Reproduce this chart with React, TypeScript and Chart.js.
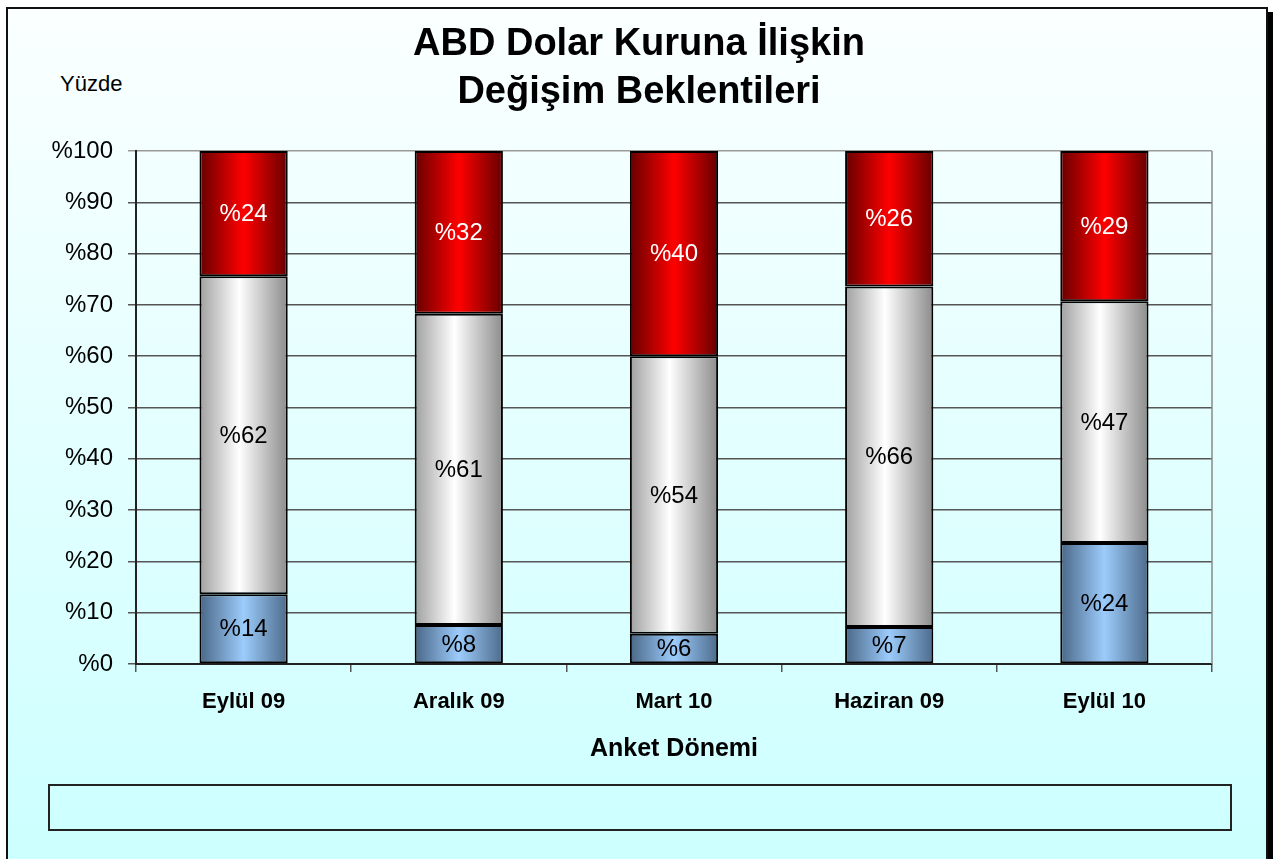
import React, { useEffect, useRef } from "react";
import { Chart, registerables } from "chart.js";

Chart.register(...registerables);

const categories = ["Eylül 09", "Aralık 09", "Mart 10", "Haziran 09", "Eylül 10"];
const lowSeries = [13.6, 7.6, 5.9, 7.2, 23.6];
const midSeries = [62.0, 60.7, 54.1, 66.4, 47.1];
const highSeries = [24.4, 31.7, 40.0, 26.4, 29.3];
const yTickValues = [0, 10, 20, 30, 40, 50, 60, 70, 80, 90, 100];
const titleLines = ["ABD Dolar Kuruna İlişkin", "Değişim Beklentileri"];
const yUnitLabel = "Yüzde";
const xAxisTitle = "Anket Dönemi";

const FONT = "'Liberation Sans', Arial, Helvetica, sans-serif";
const W = 1273;
const H = 859;
const BAR_PCT = 0.41;

function makeGrad(stops: [number, string][]) {
  const fallback = stops[Math.floor(stops.length / 2)][1];
  return (ctx: any) => {
    const chart = ctx.chart;
    const xs = chart.scales && chart.scales.x;
    if (!xs || ctx.dataIndex === undefined) return fallback;
    const cx = xs.getPixelForValue(ctx.dataIndex);
    const w = (xs.width / categories.length) * BAR_PCT;
    if (!isFinite(cx) || !isFinite(w) || w <= 0) return fallback;
    const g = chart.ctx.createLinearGradient(cx - w / 2, 0, cx + w / 2, 0);
    stops.forEach(([o, c]) => g.addColorStop(o, c));
    return g;
  };
}

const blueGrad = makeGrad([
  [0, "#4a6787"],
  [0.5, "#9cccfc"],
  [1, "#4d6b8b"],
]);
const greyGrad = makeGrad([
  [0, "#a0a0a0"],
  [0.45, "#ffffff"],
  [1, "#8c8c8c"],
]);
const redGrad = makeGrad([
  [0, "#660000"],
  [0.5, "#ff0000"],
  [1, "#660000"],
]);

const labelPlugin = {
  id: "segLabels",
  afterDatasetsDraw(chart: any) {
    const ctx = chart.ctx;
    ctx.save();
    ctx.font = `24px ${FONT}`;
    ctx.textAlign = "center";
    ctx.textBaseline = "middle";
    chart.data.datasets.forEach((ds: any, di: number) => {
      const meta = chart.getDatasetMeta(di);
      meta.data.forEach((el: any, i: number) => {
        const p = el.getProps(["x", "y", "base"], true);
        const v = ds.data[i];
        ctx.fillStyle = di === 2 ? "#ffffff" : "#000000";
        ctx.fillText("%" + Math.round(v), p.x, (p.y + p.base) / 2 + 1);
      });
    });
    ctx.restore();
  },
};

const borderPlugin = {
  id: "rightBorder",
  beforeDatasetsDraw(chart: any) {
    const { ctx, chartArea } = chart;
    ctx.save();
    ctx.strokeStyle = "#8a8a8a";
    ctx.lineWidth = 1.5;
    ctx.beginPath();
    ctx.moveTo(chartArea.right, chartArea.top);
    ctx.lineTo(chartArea.right, chartArea.bottom);
    ctx.stroke();
    ctx.restore();
  },
};

export default function App() {
  const ref = useRef<HTMLCanvasElement | null>(null);

  useEffect(() => {
    if (!ref.current) return;
    const chart = new Chart(ref.current, {
      type: "bar",
      data: {
        labels: categories,
        datasets: [
          {
            label: "1",
            data: lowSeries,
            backgroundColor: blueGrad as any,
            borderColor: "#000",
            borderWidth: 2,
            borderSkipped: false,
          },
          {
            label: "2",
            data: midSeries,
            backgroundColor: greyGrad as any,
            borderColor: "#000",
            borderWidth: 2,
            borderSkipped: false,
          },
          {
            label: "3",
            data: highSeries,
            backgroundColor: redGrad as any,
            borderColor: "#000",
            borderWidth: 2,
            borderSkipped: false,
          },
        ],
      },
      options: {
        responsive: false,
        animation: false,
        devicePixelRatio: 1,
        datasets: { bar: { barPercentage: BAR_PCT, categoryPercentage: 1 } },
        layout: { padding: { left: 5, right: 0, top: 0, bottom: 0 } },
        plugins: {
          legend: { display: false },
          tooltip: { enabled: false },
          title: {
            display: true,
            text: titleLines,
            color: "#000",
            font: { family: FONT, size: 38, weight: "bold", lineHeight: 1.27 },
            padding: { top: 20, bottom: 34.5 },
          },
        },
        scales: {
          x: {
            stacked: true,
            offset: true,
            afterFit: (s: any) => {
              s.height = H - 664;
            },
            grid: {
              offset: true,
              drawOnChartArea: false,
              drawTicks: true,
              tickLength: 8,
              color: "#555",
              lineWidth: 1.5,
            },
            border: { display: true, color: "#222", width: 2 },
            ticks: {
              color: "#000",
              padding: 17,
              font: { family: FONT, size: 22, weight: "bold" },
            },
            title: {
              display: true,
              text: xAxisTitle,
              color: "#000",
              font: { family: FONT, size: 25, weight: "bold", lineHeight: 1.2 },
              padding: { top: 0, bottom: 95 },
            },
          },
          y: {
            stacked: true,
            min: 0,
            max: 100,
            afterFit: (s: any) => {
              s.width = 131;
            },
            afterBuildTicks: (s: any) => {
              s.ticks = yTickValues.map((v) => ({ value: v }));
            },
            grid: {
              color: (c: any) => (c.tick && c.tick.value === 100 ? "#9a9a9a" : "#555"),
              lineWidth: 1.5,
              drawTicks: true,
              tickLength: 8,
            },
            border: { display: true, color: "#222", width: 2 },
            ticks: {
              color: "#000",
              padding: 15,
              font: { family: FONT, size: 24 },
              callback: (v: any) => "%" + v,
            },
          },
          yRight: {
            type: "linear",
            position: "right",
            min: 0,
            max: 100,
            afterFit: (s: any) => {
              s.width = W - 1212;
            },
            grid: { display: false },
            border: { display: false },
            ticks: { display: false },
          },
        },
      },
      plugins: [labelPlugin, borderPlugin],
    });
    return () => chart.destroy();
  }, []);

  return (
    <div
      style={{
        position: "fixed",
        left: 0,
        top: 0,
        width: W,
        height: H,
        overflow: "hidden",
        background: "#ffffff",
      }}
    >
      <div
        style={{
          position: "absolute",
          left: 6,
          top: 7,
          width: 1258,
          height: 900,
          border: "2px solid #111",
          boxShadow: "6px 5px 0 #000",
          background: "linear-gradient(to bottom, #fbffff 0px, #ccffff 852px)",
        }}
      />
      <div
        style={{
          position: "absolute",
          left: 60,
          top: 72,
          fontFamily: FONT,
          fontSize: 22,
          lineHeight: "24px",
          color: "#000",
        }}
      >
        {yUnitLabel}
      </div>
      <canvas
        ref={ref}
        width={W}
        height={H}
        style={{ position: "absolute", left: 0, top: 0, width: W, height: H }}
      />
      <div
        style={{
          position: "absolute",
          left: 48,
          top: 784,
          width: 1184,
          height: 47,
          boxSizing: "border-box",
          border: "2px solid #222",
        }}
      />
    </div>
  );
}
